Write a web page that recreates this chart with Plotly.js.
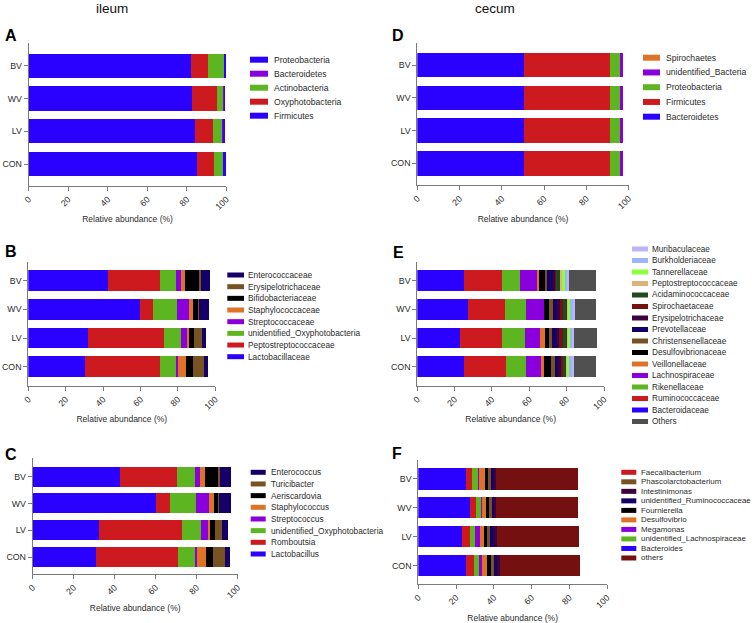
<!DOCTYPE html>
<html><head><meta charset="utf-8">
<script src="https://cdn.plot.ly/plotly-3.0.1.min.js"></script>
<style>html,body{margin:0;padding:0;background:#fff}#chart{width:756px;height:623px}</style>
</head><body><div id="chart"></div>
<script>
// ---------------- DATA ----------------
const groups = ['BV', 'WV', 'LV', 'CON'];
const xTicks = [0, 20, 40, 60, 80, 100];

// A: ileum, phylum level (stack order left -> right)
const phylaIleum = ['Firmicutes', 'Oxyphotobacteria', 'Actinobacteria', 'Bacteroidetes', 'Proteobacteria'];
const A_Firmicutes       = [82.1, 82.6, 84.2, 85.0];
const A_Oxyphotobacteria = [8.6, 12.7, 9.1, 8.8];
const A_Actinobacteria   = [8.1, 3.0, 4.5, 4.5];
const A_Bacteroidetes    = [0.1, 0.3, 0.5, 0.2];
const A_Proteobacteria   = [0.9, 0.9, 1.2, 1.4];

// D: cecum, phylum level
const phylaCecum = ['Bacteroidetes', 'Firmicutes', 'Proteobacteria', 'unidentified_Bacteria', 'Spirochaetes'];
const D_Bacteroidetes  = [50.3, 50.3, 50.3, 50.3];
const D_Firmicutes     = [40.9, 40.9, 40.9, 40.9];
const D_Proteobacteria = [4.9, 4.9, 4.9, 4.9];
const D_unidentified   = [1.2, 1.2, 1.2, 1.2];
const D_Spirochaetes   = [0.2, 0.2, 0.2, 0.2];

// B: ileum, family level
const familiesIleum = ['Lactobacillaceae', 'Peptostreptococcaceae', 'unidentified_Oxyphotobacteria', 'Streptococcaceae',
  'Staphylococcaceae', 'Bifidobacteriaceae', 'Erysipelotrichaceae', 'Enterococcaceae'];
const B_Lactobacillaceae      = [42.4, 59.9, 31.9, 30.5];
const B_Peptostreptococcaceae = [28.0, 6.8, 40.7, 39.9];
const B_unidentOxyphoto       = [8.6, 12.7, 9.1, 8.6];
const B_Streptococcaceae      = [2.7, 6.5, 3.3, 0.9];
const B_Staphylococcaceae     = [2.1, 2.2, 1.1, 4.4];
const B_Bifidobacteriaceae    = [7.7, 2.5, 2.7, 3.6];
const B_Erysipelotrichaceae   = [0.9, 0.7, 3.9, 6.1];
const B_Enterococcaceae       = [4.9, 5.3, 2.5, 2.1];

// E: cecum, family level
const familiesCecum = ['Bacteroidaceae', 'Ruminococcaceae', 'Rikenellaceae', 'Lachnospiraceae', 'Veillonellaceae',
  'Desulfovibrionaceae', 'Christensenellaceae', 'Prevotellaceae', 'Erysipelotrichaceae', 'Spirochaetaceae',
  'Acidaminococcaceae', 'Peptostreptococcaceae', 'Tannerellaceae', 'Burkholderiaceae', 'Muribaculaceae', 'Others'];
const E_Bacteroidaceae        = [25.0, 27.3, 23.0, 25.0];
const E_Ruminococcaceae       = [20.4, 19.8, 22.5, 22.3];
const E_Rikenellaceae         = [9.4, 11.1, 12.0, 11.1];
const E_Lachnospiraceae       = [9.5, 9.6, 8.2, 7.9];
const E_Veillonellaceae       = [0.7, 0.3, 2.7, 1.7];
const E_Desulfovibrionaceae   = [3.2, 2.3, 2.3, 3.6];
const E_Christensenellaceae   = [1.4, 2.1, 1.4, 2.2];
const E_Prevotellaceae        = [3.3, 2.5, 2.6, 1.7];
const E_Erysipelotrichaceae   = [0.7, 1.4, 1.4, 1.3];
const E_Spirochaetaceae       = [0.8, 1.8, 1.8, 1.1];
const E_Acidaminococcaceae    = [2.2, 1.8, 2.1, 1.8];
const E_Peptostreptococcaceae = [0.8, 0.5, 0.7, 0.5];
const E_Tannerellaceae        = [1.5, 1.3, 1.1, 1.2];
const E_Burkholderiaceae      = [1.2, 1.4, 1.1, 1.3];
const E_Muribaculaceae        = [1.0, 1.1, 1.2, 1.2];
const E_Others                = [14.6, 11.4, 12.0, 11.8];

// C: ileum, genus level
const generaIleum = ['Lactobacillus', 'Romboutsia', 'unidentified_Oxyphotobacteria', 'Streptococcus',
  'Staphylococcus', 'Aeriscardovia', 'Turicibacter', 'Enterococcus'];
const C_Lactobacillus     = [42.4, 60.1, 32.2, 30.9];
const C_Romboutsia        = [28.0, 6.7, 40.6, 39.8];
const C_unidentOxyphoto   = [8.6, 12.9, 9.3, 8.5];
const C_Streptococcus     = [2.6, 6.3, 3.3, 0.8];
const C_Staphylococcus    = [2.3, 2.4, 0.9, 4.4];
const C_Aeriscardovia     = [6.5, 2.0, 2.6, 3.4];
const C_Turicibacter      = [1.0, 0.5, 3.4, 6.0];
const C_Enterococcus      = [5.3, 5.8, 3.1, 2.3];

// F: cecum, genus level
const generaCecum = ['Bacteroides', 'Faecalibacterium', 'unidentified_Lachnospiraceae', 'Megamonas', 'Desulfovibrio',
  'Fournierella', 'Phascolarctobacterium', 'unidentified_Ruminococcaceae', 'Intestinimonas', 'others'];
const F_Bacteroides          = [25.3, 27.6, 23.2, 25.3];
const F_Faecalibacterium     = [3.0, 2.8, 4.4, 4.2];
const F_unidentLachno        = [3.2, 3.0, 2.4, 2.5];
const F_Megamonas            = [0.5, 0.4, 2.7, 1.6];
const F_Desulfovibrio        = [3.3, 2.2, 2.1, 3.0];
const F_Fournierella         = [1.5, 1.3, 1.8, 1.8];
const F_Phascolarctobacterium= [1.6, 1.6, 1.6, 1.7];
const F_unidentRumino        = [1.9, 1.4, 1.9, 1.8];
const F_Intestinimonas       = [1.0, 1.0, 1.7, 1.4];
const F_others               = [43.5, 43.5, 43.2, 42.4];

// ---------------- STYLE ----------------
const W = 756, H = 623;
const px = v => v / W, py = v => 1 - v / H;
const FONT = 'Arial, "Liberation Sans", sans-serif';
const TXT = '#2b2b2b', AX = '#7a7a7a';
const col = {
  blue: '#2a00ff', red: '#cd1a1f', green: '#5cb521', purple: '#8a00dc', orange: '#de7325',
  black: '#000000', brown: '#765320', navy: '#140068', dpurple: '#3e003e', dred: '#741010',
  dgreen: '#1e4a1e', peach: '#dfb27a', lgreen: '#8aff3c', lblue: '#9bb5f6', lav: '#bcb5fa', gray: '#505050'
};

const panels = [
  { letter: 'A', names: phylaIleum,
    series: [A_Firmicutes, A_Oxyphotobacteria, A_Actinobacteria, A_Bacteroidetes, A_Proteobacteria],
    colors: [col.blue, col.red, col.green, col.purple, col.blue], order: [4, 3, 2, 1, 0],
    x0: 28.7, x1: 226.3, yt: 43.3, yb: 185.7, padT: 0.684, padB: 0.662, barw: 0.745,
    leg: { sx: 250, sw: 18, sh: 6, tx: 273, y0: 59.7, dy: 14, fs: 8.6 }, lx: 3, ly: 35 },
  { letter: 'B', names: familiesIleum,
    series: [B_Lactobacillaceae, B_Peptostreptococcaceae, B_unidentOxyphoto, B_Streptococcaceae,
      B_Staphylococcaceae, B_Bifidobacteriaceae, B_Erysipelotrichaceae, B_Enterococcaceae],
    colors: [col.blue, col.red, col.green, col.purple, col.orange, col.black, col.brown, col.navy],
    order: [7, 6, 5, 4, 3, 2, 1, 0],
    x0: 28.3, x1: 215.3, yt: 261.7, yb: 385.7, padT: 0.663, padB: 0.663, barw: 0.73,
    leg: { sx: 227.3, sw: 16.7, sh: 5, tx: 246.7, y0: 275, dy: 11.67, fs: 8.3 }, lx: 3, ly: 251.7 },
  { letter: 'C', names: generaIleum,
    series: [C_Lactobacillus, C_Romboutsia, C_unidentOxyphoto, C_Streptococcus, C_Staphylococcus,
      C_Aeriscardovia, C_Turicibacter, C_Enterococcus],
    colors: [col.blue, col.red, col.green, col.purple, col.orange, col.black, col.brown, col.navy],
    order: [7, 6, 5, 4, 3, 2, 1, 0],
    x0: 32.7, x1: 237.7, yt: 458.3, yb: 574, padT: 0.687, padB: 0.635, barw: 0.745,
    leg: { sx: 250.7, sw: 15, sh: 5, tx: 269.7, y0: 472.3, dy: 11.67, fs: 8.3 }, lx: 3, ly: 454 },
  { letter: 'D', names: phylaCecum,
    series: [D_Bacteroidetes, D_Firmicutes, D_Proteobacteria, D_unidentified, D_Spirochaetes],
    colors: [col.blue, col.red, col.green, col.purple, col.orange], order: [4, 3, 2, 1, 0],
    x0: 417.3, x1: 628.7, yt: 43.3, yb: 185, padT: 0.662, padB: 0.66, barw: 0.745,
    leg: { sx: 643, sw: 17, sh: 6, tx: 665.3, y0: 57.7, dy: 14.75, fs: 8.6 }, lx: 390, ly: 35 },
  { letter: 'E', names: familiesCecum,
    series: [E_Bacteroidaceae, E_Ruminococcaceae, E_Rikenellaceae, E_Lachnospiraceae, E_Veillonellaceae,
      E_Desulfovibrionaceae, E_Christensenellaceae, E_Prevotellaceae, E_Erysipelotrichaceae, E_Spirochaetaceae,
      E_Acidaminococcaceae, E_Peptostreptococcaceae, E_Tannerellaceae, E_Burkholderiaceae, E_Muribaculaceae, E_Others],
    colors: [col.blue, col.red, col.green, col.purple, col.orange, col.black, col.brown, col.navy, col.dpurple,
      col.dred, col.dgreen, col.peach, col.lgreen, col.lblue, col.lav, col.gray],
    order: [14, 13, 12, 11, 10, 9, 8, 7, 6, 5, 4, 3, 2, 1, 0, 15],
    x0: 417.3, x1: 604, yt: 261.7, yb: 385.7, padT: 0.663, padB: 0.663, barw: 0.73,
    leg: { sx: 632, sw: 16, sh: 5, tx: 651, y0: 249, dy: 11.5, fs: 8.2 }, lx: 390.5, ly: 252.5 },
  { letter: 'F', names: generaCecum,
    series: [F_Bacteroides, F_Faecalibacterium, F_unidentLachno, F_Megamonas, F_Desulfovibrio, F_Fournierella,
      F_Phascolarctobacterium, F_unidentRumino, F_Intestinimonas, F_others],
    colors: [col.blue, col.red, col.green, col.purple, col.orange, col.black, col.brown, col.navy, col.dpurple, col.dred],
    order: [1, 6, 8, 7, 5, 4, 3, 2, 0, 9],
    x0: 418.3, x1: 607, yt: 460, yb: 584, padT: 0.657, padB: 0.633, barw: 0.727,
    leg: { sx: 621.3, sw: 15, sh: 5, tx: 639.5, y0: 472.3, dy: 9.52, fs: 7.9 }, lx: 390, ly: 453 }
];

const traces = [];
const layout = {
  width: W, height: H, margin: { l: 0, r: 0, t: 0, b: 0 },
  paper_bgcolor: '#ffffff', plot_bgcolor: 'rgba(0,0,0,0)',
  barmode: 'stack', showlegend: false,
  font: { family: FONT, size: 8.5, color: TXT },
  shapes: [], annotations: []
};

panels.forEach((p, i) => {
  const n = i + 1;
  const xa = n === 1 ? 'x' : 'x' + n, ya = n === 1 ? 'y' : 'y' + n;
  p.series.forEach((vals, j) => {
    traces.push({
      type: 'bar', orientation: 'h', name: p.names[j], x: vals, y: groups,
      xaxis: xa, yaxis: ya, width: p.barw,
      marker: { color: p.colors[j], line: { width: 0 } }
    });
  });
  layout[n === 1 ? 'xaxis' : 'xaxis' + n] = {
    domain: [px(p.x0), px(p.x1)], anchor: ya, range: [0, 100], tickvals: xTicks, tickangle: -45,
    ticks: 'outside', ticklen: 4, tickcolor: AX, tickwidth: 1, showline: true, linecolor: AX, linewidth: 1,
    showgrid: false, zeroline: false, fixedrange: true,
    tickfont: { family: FONT, size: 8.8, color: TXT },
    title: { text: 'Relative abundance (%)', font: { family: FONT, size: 8.5, color: TXT }, standoff: 5 }
  };
  layout[n === 1 ? 'yaxis' : 'yaxis' + n] = {
    domain: [py(p.yb), py(p.yt)], anchor: xa, type: 'category', categoryorder: 'array', categoryarray: groups,
    range: [3 + p.padB, -p.padT], ticks: 'outside', ticklen: 4, tickcolor: AX, tickwidth: 1,
    showline: true, linecolor: AX, linewidth: 1, showgrid: false, zeroline: false, fixedrange: true,
    tickfont: { family: FONT, size: 8.8, color: TXT }
  };
  // hand-built legend (items are tighter than Plotly's minimum legend row height)
  p.order.forEach((j, k) => {
    const yc = p.leg.y0 + k * p.leg.dy;
    layout.shapes.push({
      type: 'rect', xref: 'paper', yref: 'paper',
      x0: px(p.leg.sx), x1: px(p.leg.sx + p.leg.sw), y0: py(yc + p.leg.sh / 2), y1: py(yc - p.leg.sh / 2),
      fillcolor: p.colors[j], line: { width: 0 }
    });
    layout.annotations.push({
      xref: 'paper', yref: 'paper', x: px(p.leg.tx), y: py(yc), xanchor: 'left', yanchor: 'middle',
      text: p.names[j], showarrow: false, borderpad: 0, font: { family: FONT, size: p.leg.fs, color: TXT }
    });
  });
  layout.annotations.push({
    xref: 'paper', yref: 'paper', x: px(p.lx), y: py(p.ly), xanchor: 'left', yanchor: 'middle',
    text: '<b>' + p.letter + '</b>', showarrow: false, font: { family: FONT, size: 16, color: '#000' }
  });
});

// column headings
[['ileum', 112], ['cecum', 495]].forEach(([t, x]) => {
  layout.annotations.push({
    xref: 'paper', yref: 'paper', x: px(x), y: py(8.5), xanchor: 'center', yanchor: 'middle',
    text: t, showarrow: false, font: { family: FONT, size: 13.5, color: '#111' }
  });
});

Plotly.newPlot('chart', traces, layout, { staticPlot: true, displayModeBar: false });
</script>
</body></html>
